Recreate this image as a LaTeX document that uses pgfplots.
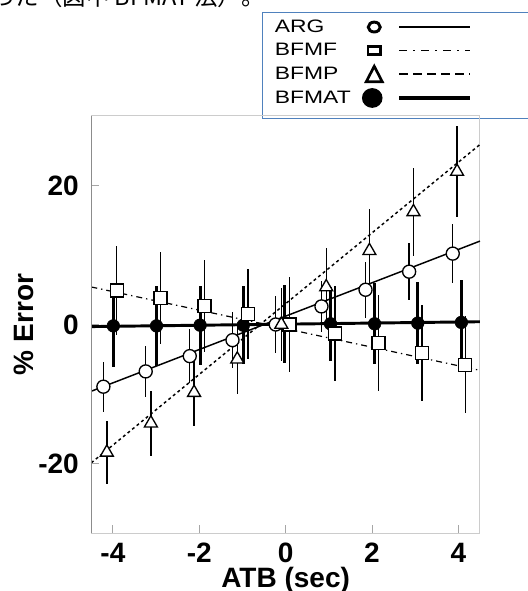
\documentclass[border=0pt]{standalone}
\usepackage{pgfplots}
\usepackage{pgfplotstable}
\pgfplotsset{compat=1.18}
\usepackage{fontspec}
\setmainfont{Liberation Sans}
\newfontfamily\cjk{Noto Sans CJK JP}

\definecolor{legblue}{RGB}{79,129,189}

% x  y  err
\pgfplotstableread{
x y e
-4.22 -8.95 3.6
-3.24 -6.75 3.7
-2.22 -4.55 3.9
-1.23 -2.25 4.0
-0.23 0.0 4.1
0.83 2.6 3.7
1.85 5.0 4.0
2.86 7.6 4.1
3.87 10.2 4.2
}\argdata
\pgfplotstableread{
x y e
-3.91 4.9 6.4
-2.90 3.8 6.6
-1.88 2.7 6.6
-0.87 1.5 6.5
0.09 0.0 6.9
1.14 -1.3 6.8
2.15 -2.7 6.9
3.16 -4.1 6.9
4.16 -5.8 7.0
}\bfmfdata
\pgfplotstableread{
x y e
-4.14 -18.4 4.5
-3.12 -14.2 4.7
-2.12 -9.8 4.8
-1.12 -5.0 5.0
-0.10 0.0 5.3
0.94 5.4 5.6
1.94 10.6 6.0
2.96 16.2 6.3
3.97 22.0 6.6
}\bfmpdata
\pgfplotstableread{
x y e
-3.99 -0.2 5.9
-2.99 -0.2 5.8
-1.98 -0.1 5.7
-0.98 -0.1 5.6
-0.03 0.1 5.6
1.04 0.1 5.3
2.06 0.1 5.8
3.06 0.2 5.9
4.07 0.3 6.1
}\bfmatdata

\begin{document}
\begin{tikzpicture}
\useasboundingbox (0pt,0pt) rectangle (395.25pt,443.25pt);
% cut-off caption line above the figure
\node[anchor=base west, inner sep=0pt, font=\cjk\fontsize{17.6}{18}\selectfont] at (-6pt,438.75pt) {った（図中 BFMAT 法）。};
% legend frame
\draw[legblue, line width=0.75pt] (196.5pt,354pt) rectangle (405pt,434pt);

\begin{axis}[
    at={(68.475pt,43.5pt)}, anchor=south west,
    width=291.5pt, height=312.75pt, scale only axis,
    xmin=-4.5, xmax=4.5, ymin=-30, ymax=30,
    xtick={-4,-2,0,2,4}, ytick={-20,0,20},
    tick pos=left, tick align=inside,
    major tick length=6pt,
    tick style={black!35, line width=0.6pt},
    axis line style={black!20, line width=0.75pt},
    /pgf/number format/assume math mode=true,
    ticklabel style={font=\bfseries\fontsize{21}{21}\selectfont},
    xticklabel style={inner sep=0pt, yshift=-7.5pt},
    yticklabel style={inner sep=0pt, xshift=-9.2pt},
    xlabel={ATB (sec)}, ylabel={\% Error},
    label style={font=\bfseries\fontsize{21}{21}\selectfont},
    xlabel style={at={(axis description cs:0.5,-0.1295)}, anchor=base, inner sep=0pt},
    ylabel style={at={(axis description cs:-0.15,0.5)}, anchor=base, inner sep=0pt},
    legend plot pos=right,
    legend cell align=left,
    legend style={at={(axis description cs:0.4726,1.2357)}, anchor=north west,
        draw=none, fill=none, inner sep=0pt, outer sep=0pt, row sep=3.6pt, column sep=0pt,
        font=\fontsize{13.5}{14}\selectfont,
        nodes={inner sep=0pt, text width=65.25pt}},
    error bars/y dir=both, error bars/y explicit,
    error bars/error mark=none,
    clip=false,
    extra description/.code={\draw[black!45, line width=0.75pt] (rel axis cs:0,0) -- (rel axis cs:0,1);},
]
% error bars + markers
\addplot[only marks, mark=*, mark size=4.75pt, mark options={black, fill=black},
    error bars/error bar style={black, line width=2.2pt}, forget plot]
    table[x=x, y=y, y error=e] {\bfmatdata};
\addplot[only marks, mark=*, mark size=4.9pt, mark options={black, fill=white, line width=1pt},
    error bars/error bar style={black, line width=1pt}, forget plot]
    table[x=x, y=y, y error=e] {\argdata};
\addplot[only marks, mark=square*, mark size=4.9pt, mark options={black, fill=white, line width=1pt},
    error bars/error bar style={black, line width=1pt}, forget plot]
    table[x=x, y=y, y error=e] {\bfmfdata};
\addplot[only marks, mark=triangle*, mark size=5.6pt, mark options={black, fill=white, line width=1pt},
    error bars/error bar style={black, line width=1pt}, forget plot]
    table[x=x, y=y, y error=e] {\bfmpdata};

% fitted lines (on top of the markers)
\addplot[black, line width=1.1pt, mark=none,
    legend image code/.code={
        \path[draw=none, fill=none] (0pt,-7pt) rectangle (80pt,7pt);
        \draw[black, solid, line width=1.5pt] (26.25pt,0pt) -- (79.5pt,0pt);
        \draw[black, solid, line width=2.2pt, fill=white] (7.5pt,0pt) ellipse (4.5pt and 3.7pt);
    }] coordinates {(-4.5,-9.6) (4.5,12.0)};
\addlegendentry{\scalebox{1.27}[1]{ARG}}

\addplot[black, line width=0.9pt, mark=none, dash pattern=on 4.5pt off 3pt on 1pt off 3pt,
    legend image code/.code={
        \path[draw=none, fill=none] (0pt,-7pt) rectangle (80pt,7pt);
        \draw[black, line width=1.1pt, dash pattern=on 6pt off 4.5pt on 1.5pt off 4.5pt] (26.25pt,0pt) -- (79.5pt,0pt);
        \draw[black, solid, line width=1.9pt, fill=white] (2.8pt,-2.9pt) rectangle (12.2pt,2.9pt);
    }] coordinates {(-4.5,5.4) (4.5,-6.6)};
\addlegendentry{\scalebox{1.27}[1]{BFMF}}

\addplot[black, line width=1.1pt, mark=none, dash pattern=on 2.2pt off 2.2pt,
    legend image code/.code={
        \path[draw=none, fill=none] (0pt,-7pt) rectangle (80pt,7pt);
        \draw[black, line width=1.1pt, dash pattern=on 6.5pt off 4pt] (26.25pt,0pt) -- (79.5pt,0pt);
        \draw[black, solid, line width=2pt, line join=miter, fill=white] (1.5pt,-5.8pt) -- (13.5pt,-5.8pt) -- (7.5pt,5.8pt) -- cycle;
    }] coordinates {(-4.5,-19.9) (4.5,25.9)};
\addlegendentry{\scalebox{1.27}[1]{BFMP}}

\addplot[black, line width=2.2pt, mark=none,
    legend image code/.code={
        \path[draw=none, fill=none] (0pt,-7pt) rectangle (80pt,7pt);
        \draw[black, solid, line width=3pt] (26.25pt,0pt) -- (79.5pt,0pt);
        \fill[black] (6pt,0pt) ellipse (6.6pt and 6.3pt);
    }] coordinates {(-4.5,-0.3) (4.5,0.4)};
\addlegendentry{\scalebox{1.27}[1]{BFMAT}}
\end{axis}
\end{tikzpicture}
\end{document}
